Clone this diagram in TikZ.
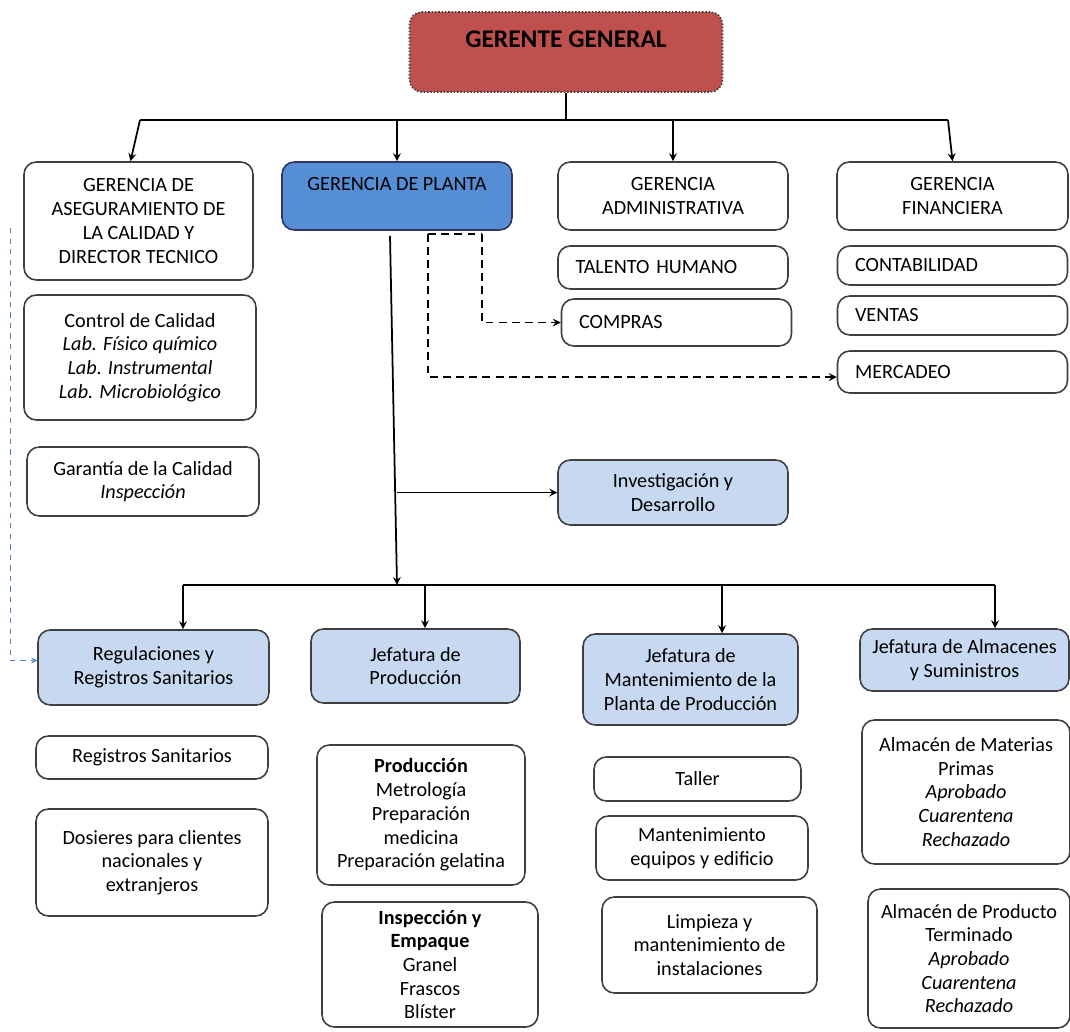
\documentclass[tikz,border=0pt]{standalone}
\usepackage{fontspec}
\setmainfont{Carlito}
\usepackage{xcolor}
\usepackage{tikz}

\definecolor{ggred}{HTML}{C0504D}
\definecolor{plantablue}{HTML}{558ED5}
\definecolor{lightblue}{HTML}{C6D9F1}
\definecolor{boxgray}{HTML}{404040}
\definecolor{linkblue}{HTML}{4F81BD}

\begin{document}
\begin{tikzpicture}[x=0.02cm, y=-0.02cm, font=\fontsize{11.5}{13.5}\selectfont]
    % Define styles
    \tikzstyle{box} = [rectangle, rounded corners=7pt, align=center, draw=boxgray, line width=0.9pt, fill=white, inner sep=2pt]
    \tikzstyle{head} = [box, fill=lightblue]
    \tikzstyle{listbox} = [box, align=left, text width=3.9cm, inner xsep=0.35cm]
    \tikzstyle{ggbox} = [box, fill=ggred, draw=boxgray, densely dotted, font=\fontsize{14.5}{15}\selectfont\bfseries]
    \tikzstyle{plantabox} = [box, fill=plantablue, draw=boxgray!80!blue]
    \tikzstyle{line} = [line width=1pt]
    \tikzstyle{arrow} = [line width=1pt,->,>=stealth]
    \tikzstyle{dasharrow} = [line width=1pt,dash pattern=on 4.5pt off 3pt,->,>=stealth]
    \tikzstyle{bluearrow} = [linkblue,dashed,line width=0.5pt,->,>=stealth]

    \useasboundingbox (0,0) rectangle (1070,1031);

    % Top level
    \node (gg) [ggbox, minimum width=6.26cm, minimum height=1.6cm] at (566,52) {GERENTE GENERAL\\ \mbox{}};

    % Gerencias
    \node (asegur) [box, minimum width=4.58cm, minimum height=2.36cm] at (138.5,221) {GERENCIA DE\\ASEGURAMIENTO DE\\LA CALIDAD Y\\DIRECTOR TECNICO};
    \node (planta) [plantabox, minimum width=4.6cm, minimum height=1.36cm] at (397,196) {GERENCIA DE PLANTA\\ \mbox{}};
    \node (admin) [box, minimum width=4.6cm, minimum height=1.36cm] at (673,196) {GERENCIA\\ADMINISTRATIVA};
    \node (finan) [box, minimum width=4.62cm, minimum height=1.36cm] at (952.5,196) {GERENCIA\\FINANCIERA};

    \node (talento) [listbox, minimum height=0.86cm] at (673,267.5) {TALENTO HUMANO};
    \node (compras) [listbox, minimum height=0.94cm] at (676.5,322.5) {COMPRAS};
    \node (contab) [listbox, minimum height=0.78cm] at (952.5,265.5) {CONTABILIDAD};
    \node (ventas) [listbox, minimum height=0.78cm] at (952.5,315.5) {VENTAS};
    \node (mercadeo) [listbox, minimum height=0.84cm] at (952.5,372) {MERCADEO};

    \node (control) [box, minimum width=4.64cm, minimum height=2.5cm] at (140,357.5) {Control de Calidad\\\textit{Lab. Físico químico}\\\textit{Lab. Instrumental}\\\textit{Lab. Microbiológico}};
    \node (garantia) [box, minimum width=4.64cm, minimum height=1.38cm] at (143,481.5) {Garantía de la Calidad\\\textit{Inspección}};
    \node (invest) [head, minimum width=4.6cm, minimum height=1.3cm] at (673,492.5) {Investigación y\\Desarrollo};

    % Jefaturas
    \node (regul) [head, minimum width=4.62cm, minimum height=1.5cm] at (153.5,667.5) {Regulaciones y\\Registros Sanitarios};
    \node (jprod) [head, minimum width=4.18cm, minimum height=1.48cm] at (415.5,666) {Jefatura de\\Producción};
    \node (jmant) [head, minimum width=4.3cm, minimum height=1.82cm] at (690.5,679.5) {Jefatura de\\Mantenimiento de la\\Planta de Producción};
    \node (jalm) [head, minimum width=4.18cm, minimum height=1.24cm] at (964.5,660) {Jefatura de Almacenes\\y Suministros};

    \node (regsan) [box, minimum width=4.64cm, minimum height=0.86cm] at (152,757.5) {Registros Sanitarios};
    \node (dosier) [box, minimum width=4.64cm, minimum height=2.14cm] at (152,862.5) {Dosieres para clientes\\nacionales y\\extranjeros};

    \node (produc) [box, minimum width=4.16cm, minimum height=2.8cm] at (421,815) {\textbf{Producción}\\Metrología\\Preparación\\medicina\\Preparación gelatina};
    \node (inspec) [box, minimum width=4.32cm, minimum height=2.5cm] at (430,964.5) {\textbf{Inspección y}\\\textbf{Empaque}\\Granel\\Frascos\\Blíster};

    \node (taller) [box, minimum width=4.14cm, minimum height=0.88cm] at (697.5,779) {Taller};
    \node (mequip) [box, minimum width=4.24cm, minimum height=1.28cm] at (702,848) {Mantenimiento\\equipos y edificio};
    \node (limp) [box, minimum width=4.3cm, minimum height=1.92cm] at (709.5,945) {Limpieza y\\mantenimiento de\\instalaciones};

    \node (almmp) [box, minimum width=4.16cm, minimum height=2.88cm] at (966,792) {Almacén de Materias\\Primas\\\textit{Aprobado}\\\textit{Cuarentena}\\\textit{Rechazado}};
    \node (almpt) [box, minimum width=4.04cm, minimum height=2.78cm] at (969,958.5) {Almacén de Producto\\Terminado\\\textit{Aprobado}\\\textit{Cuarentena}\\\textit{Rechazado}};

    % Top connectors
    \coordinate (ggbus) at (566,120);
    \coordinate (busL) at (140,120);
    \coordinate (busR) at (948,120);
    \draw [line] (gg.south) -- (ggbus);
    \draw [line] (busL) -- (busR);
    \draw [arrow] (busL) -- ([xshift=-0.16cm]asegur.north);
    \draw [arrow] (busL -| planta.north) -- (planta.north);
    \draw [arrow] (busL -| admin.north) -- (admin.north);
    \draw [arrow] (busR) -- (finan.north);

    % Gerencia de planta connectors
    \coordinate (pbus) at (397,585);
    \draw [arrow] ([xshift=-0.14cm,yshift=-0.1cm]planta.south) -- (pbus);
    \draw [arrow] (pbus |- invest.west) -- (invest.west);

    \coordinate (bL) at (183,585);
    \coordinate (b2) at (425,585);
    \coordinate (b3) at (722,585);
    \coordinate (bR) at (995,585);
    \draw [line] (bL) -- (bR);
    \draw [arrow] (bL) -- (bL |- regul.north);
    \draw [arrow] (b2) -- (b2 |- jprod.north);
    \draw [arrow] (b3) -- (b3 |- jmant.north);
    \draw [arrow] (bR) -- (bR |- jalm.north);

    % Dashed links
    \coordinate (dl) at ([xshift=0.62cm,yshift=-0.06cm]planta.south);
    \coordinate (dr) at ([xshift=1.7cm,yshift=-0.06cm]planta.south);
    \draw [line width=1pt,dash pattern=on 4.5pt off 3pt] (dl) -- (dr);
    \draw [dasharrow] (dr) |- (compras.west);
    \draw [dasharrow] (dl) |- ([yshift=-0.1cm]mercadeo.west);

    \coordinate (qtop) at (10,228);
    \draw [bluearrow] (qtop) |- ([yshift=0.14cm]regul.west);
\end{tikzpicture}
\end{document}
